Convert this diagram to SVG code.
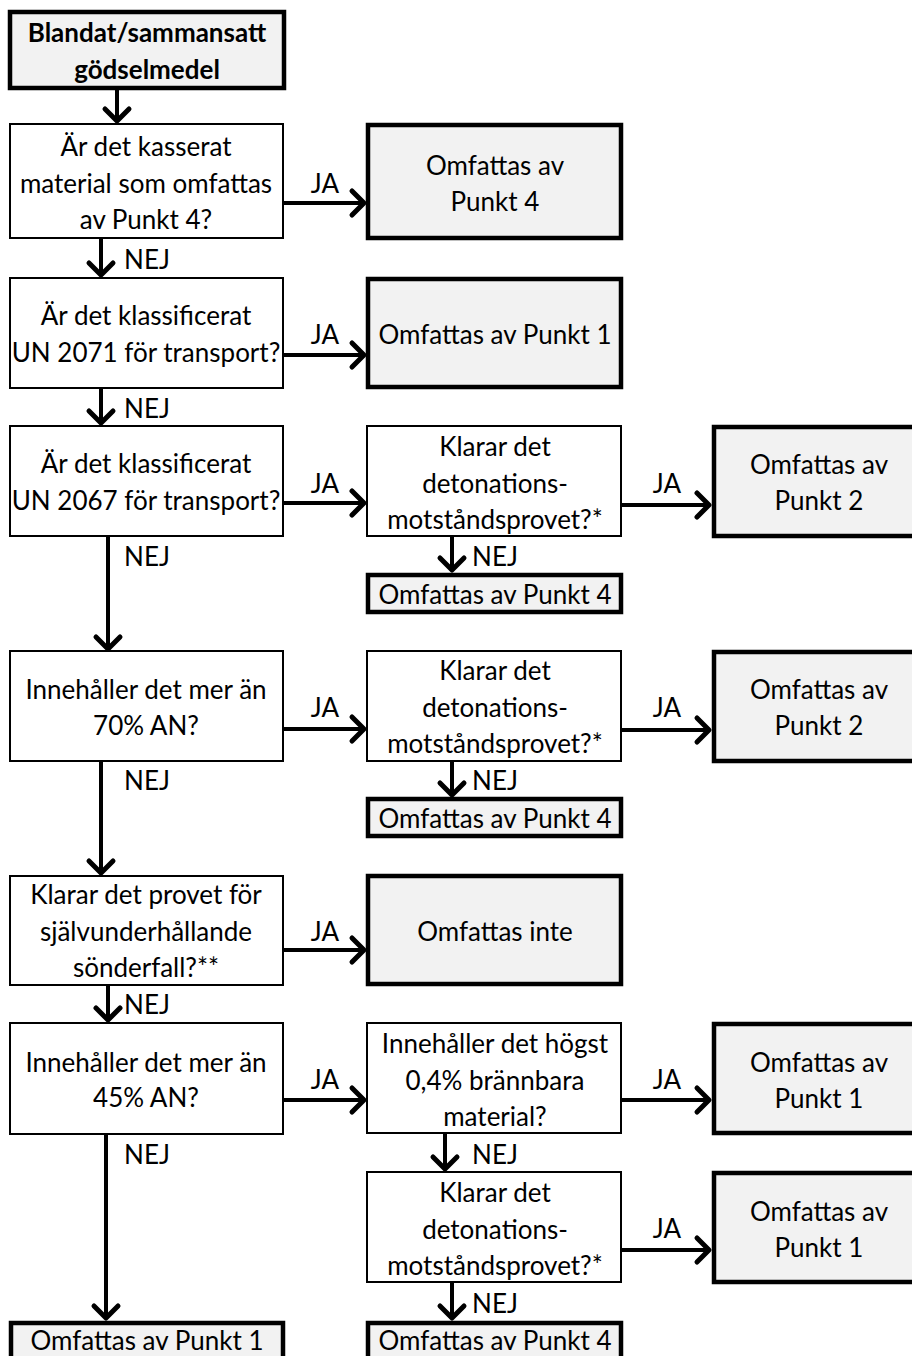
<svg xmlns="http://www.w3.org/2000/svg" width="912" height="1356" viewBox="0 0 912 1356">
<style>
.q{fill:#fff;stroke:#000;stroke-width:2}
.r{fill:#f2f2f2;stroke:#000;stroke-width:4.5}
text{font-family:Lato,"Noto Sans",sans-serif;font-size:26px;fill:#000;text-anchor:middle;dominant-baseline:central}
.b{font-weight:bold}
.c line{stroke:#000;stroke-width:4;marker-end:url(#ah)}
</style>
<defs>
<marker id="ah" markerUnits="userSpaceOnUse" viewBox="-16 -14 20 28" refX="0" refY="0" markerWidth="20" markerHeight="28" orient="auto" overflow="visible">
<path d="M-12,-12 L0,0 L-12,12" fill="none" stroke="#000" stroke-width="5" stroke-linejoin="round" stroke-linecap="round"/>
</marker>
</defs>
<rect width="912" height="1356" fill="#fff"/>
<g class="c" id="connectors">
<line x1="117" y1="88" x2="117" y2="121"/>
<line x1="283" y1="203" x2="364" y2="203"/>
<line x1="101" y1="238" x2="101" y2="275"/>
<line x1="283" y1="355" x2="364" y2="355"/>
<line x1="101" y1="388" x2="101" y2="423"/>
<line x1="283" y1="503" x2="364" y2="503"/>
<line x1="621" y1="505" x2="709" y2="505"/>
<line x1="452" y1="536" x2="452" y2="570"/>
<line x1="108" y1="536" x2="108" y2="649"/>
<line x1="283" y1="729" x2="364" y2="729"/>
<line x1="621" y1="730" x2="709" y2="730"/>
<line x1="452" y1="761" x2="452" y2="795"/>
<line x1="101" y1="761" x2="101" y2="873"/>
<line x1="283" y1="950" x2="364" y2="950"/>
<line x1="108" y1="985" x2="108" y2="1020"/>
<line x1="283" y1="1100" x2="364" y2="1100"/>
<line x1="621" y1="1100" x2="709" y2="1100"/>
<line x1="445" y1="1133" x2="445" y2="1169"/>
<line x1="621" y1="1250" x2="709" y2="1250"/>
<line x1="452" y1="1282" x2="452" y2="1318"/>
<line x1="106" y1="1134" x2="106" y2="1318"/>
<text x="325" y="183">JA</text>
<text x="147" y="259">NEJ</text>
<text x="325" y="334">JA</text>
<text x="147" y="408">NEJ</text>
<text x="325" y="483">JA</text>
<text x="667" y="483">JA</text>
<text x="495" y="556">NEJ</text>
<text x="147" y="556">NEJ</text>
<text x="325" y="707">JA</text>
<text x="667" y="707">JA</text>
<text x="495" y="780">NEJ</text>
<text x="147" y="780">NEJ</text>
<text x="325" y="931">JA</text>
<text x="147" y="1004">NEJ</text>
<text x="325" y="1079">JA</text>
<text x="667" y="1079">JA</text>
<text x="495" y="1154">NEJ</text>
<text x="147" y="1154">NEJ</text>
<text x="667" y="1228">JA</text>
<text x="495" y="1303">NEJ</text>
</g>
<g id="start"><rect class="r" x="10" y="12" width="274" height="76"/><text class="b" x="147" y="32">Blandat/sammansatt</text><text class="b" x="147" y="69">gödselmedel</text></g>
<g id="q1"><rect class="q" x="10" y="124" width="273" height="114"/><text x="146" y="146">Är det kasserat</text><text x="146" y="183">material som omfattas</text><text x="146" y="219">av Punkt 4?</text></g>
<g id="r1"><rect class="r" x="368" y="125" width="253" height="113"/><text x="495" y="165">Omfattas av</text><text x="495" y="201">Punkt 4</text></g>
<g id="q2"><rect class="q" x="10" y="278" width="273" height="110"/><text x="146" y="315">Är det klassificerat</text><text x="146" y="352">UN 2071 för transport?</text></g>
<g id="r2"><rect class="r" x="368" y="279" width="253" height="108"/><text x="495" y="334">Omfattas av Punkt 1</text></g>
<g id="q3"><rect class="q" x="10" y="426" width="273" height="110"/><text x="146" y="463">Är det klassificerat</text><text x="146" y="500">UN 2067 för transport?</text></g>
<g id="q3a"><rect class="q" x="367" y="426" width="254" height="110"/><text x="495" y="446">Klarar det</text><text x="495" y="483">detonations-</text><text x="495" y="519">motståndsprovet?*</text></g>
<g id="r3"><rect class="r" x="714" y="427" width="202" height="109"/><text x="819" y="464">Omfattas av</text><text x="819" y="500">Punkt 2</text></g>
<g id="r3b"><rect class="r" x="368" y="575" width="253" height="37"/><text x="495" y="594">Omfattas av Punkt 4</text></g>
<g id="q4"><rect class="q" x="10" y="651" width="273" height="110"/><text x="146" y="689">Innehåller det mer än</text><text x="146" y="725">70% AN?</text></g>
<g id="q4a"><rect class="q" x="367" y="651" width="254" height="110"/><text x="495" y="670">Klarar det</text><text x="495" y="707">detonations-</text><text x="495" y="743">motståndsprovet?*</text></g>
<g id="r4"><rect class="r" x="714" y="652" width="202" height="109"/><text x="819" y="689">Omfattas av</text><text x="819" y="725">Punkt 2</text></g>
<g id="r4b"><rect class="r" x="368" y="799" width="253" height="37"/><text x="495" y="818">Omfattas av Punkt 4</text></g>
<g id="q5"><rect class="q" x="10" y="876" width="273" height="109"/><text x="146" y="894">Klarar det provet för</text><text x="146" y="931">självunderhållande</text><text x="146" y="967">sönderfall?**</text></g>
<g id="r5"><rect class="r" x="368" y="876" width="253" height="108"/><text x="495" y="931">Omfattas inte</text></g>
<g id="q6"><rect class="q" x="10" y="1023" width="273" height="111"/><text x="146" y="1062">Innehåller det mer än</text><text x="146" y="1097">45% AN?</text></g>
<g id="q6a"><rect class="q" x="367" y="1023" width="254" height="110"/><text x="495" y="1043">Innehåller det högst</text><text x="495" y="1080">0,4% brännbara</text><text x="495" y="1116">material?</text></g>
<g id="r6"><rect class="r" x="714" y="1024" width="202" height="109"/><text x="819" y="1062">Omfattas av</text><text x="819" y="1098">Punkt 1</text></g>
<g id="q6b"><rect class="q" x="367" y="1172" width="254" height="110"/><text x="495" y="1192">Klarar det</text><text x="495" y="1229">detonations-</text><text x="495" y="1265">motståndsprovet?*</text></g>
<g id="r6b"><rect class="r" x="714" y="1173" width="202" height="109"/><text x="819" y="1211">Omfattas av</text><text x="819" y="1247">Punkt 1</text></g>
<g id="r6c"><rect class="r" x="368" y="1323" width="253" height="40"/><text x="495" y="1340">Omfattas av Punkt 4</text></g>
<g id="r7"><rect class="r" x="11" y="1323" width="272" height="40"/><text x="147" y="1340">Omfattas av Punkt 1</text></g>
</svg>
